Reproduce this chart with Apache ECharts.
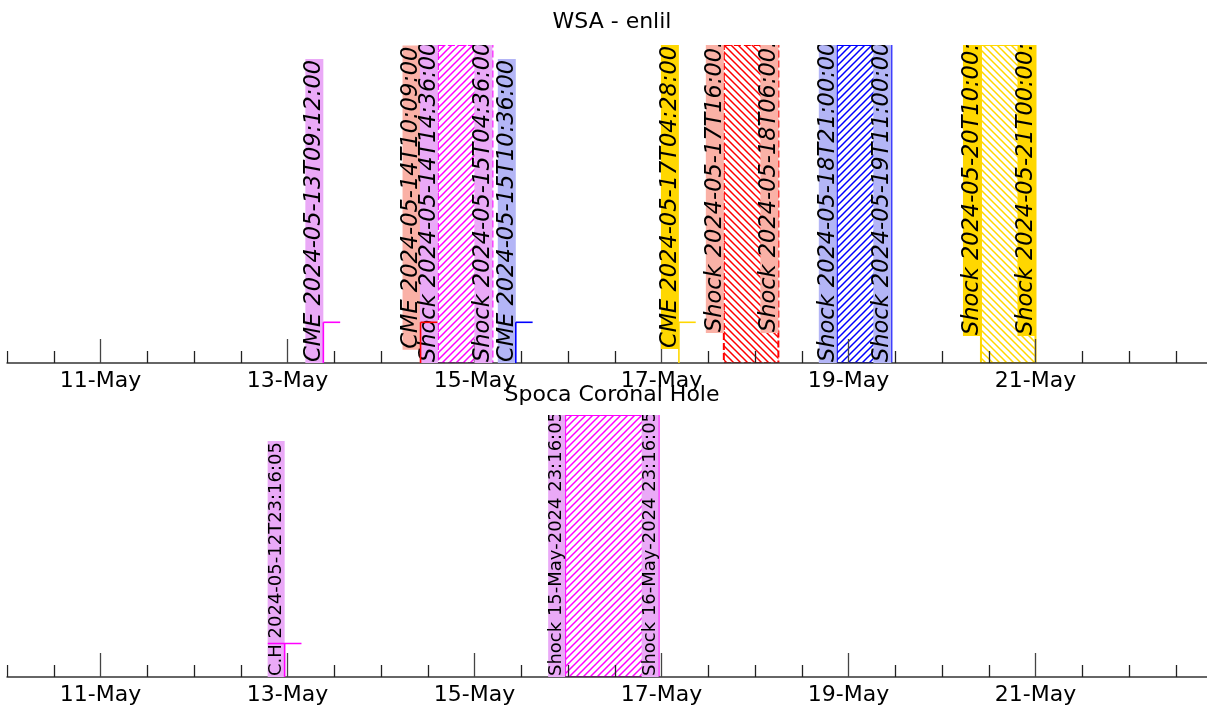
<!DOCTYPE html>
<html><head><meta charset="utf-8">
<script src="https://cdn.jsdelivr.net/npm/echarts@6/dist/echarts.min.js"></script>
<style>html,body{margin:0;padding:0;background:#fff}#c{width:1207px;height:707px}</style>
</head><body><div id="c"></div>
<script>
// ---------------- data ----------------
const wsaTitle = 'WSA - enlil';
const spocaTitle = 'Spoca Coronal Hole';
const tickLabels = ['11-May', '13-May', '15-May', '17-May', '19-May', '21-May'];
const wsaCmeTimes = ['2024-05-13T09:12:00', '2024-05-14T10:09:00', '2024-05-15T10:36:00', '2024-05-17T04:28:00'];
const wsaShockStarts = ['2024-05-14T14:36:00', '2024-05-17T16:00:00', '2024-05-18T21:00:00', '2024-05-20T10:00:00'];
const wsaShockEnds = ['2024-05-15T04:36:00', '2024-05-18T06:00:00', '2024-05-19T11:00:00', '2024-05-21T00:00:00'];
const spocaChTimes = ['2024-05-12T23:16:05'];
const spocaShockStarts = ['2024-05-15T23:16:05'];
const spocaShockEnds = ['2024-05-16T23:16:05'];

// ---------------- styles / layout ----------------
const VIOLET_BG = '#EAA9F7', SALMON_BG = '#FAB1A6', BLUE_BG = '#B3B5F6', GOLD_BG = '#FFD700';
const wsaCmeStyle = [
  {bg: VIOLET_BG, line: '#FF00FF', lift: 0},
  {bg: SALMON_BG, line: '#FF0000', lift: 0.042},
  {bg: BLUE_BG, line: '#0000FF', lift: 0},
  {bg: GOLD_BG, line: '#FFD700', lift: 0.044}
];
const wsaShockStyle = [
  {bg: VIOLET_BG, edge: '#FF00FF', hatch: '/', dash: true, lift: 0},
  {bg: SALMON_BG, edge: '#FF0000', hatch: '\\', dash: true, lift: 0.094},
  {bg: BLUE_BG, edge: '#0000FF', hatch: '/', dash: false, lift: 0},
  {bg: GOLD_BG, edge: '#FFD700', hatch: '\\', dash: false, lift: 0.085}
];
const spocaChStyle = [{bg: VIOLET_BG, line: '#FF00FF', lift: 0}];
const spocaShockStyle = [{bg: VIOLET_BG, edge: '#FF00FF', hatch: '/', dash: false, lift: 0}];
const MARK_H = 0.128;          // marker height (fraction of axis)
const MARK_W = 0.18 * 86400000; // marker horizontal half-length (ms)

const DAY = 86400000;
const T = s => Date.parse(s + 'Z');
const MON = ['Jan','Feb','Mar','Apr','May','Jun','Jul','Aug','Sep','Oct','Nov','Dec'];
const pad = n => String(n).padStart(2, '0');
function fmtDay(v) { const d = new Date(v); return pad(d.getUTCDate()) + '-' + MON[d.getUTCMonth()]; }
function fmtDMY(s) {
  const d = new Date(T(s));
  return pad(d.getUTCDate()) + '-' + MON[d.getUTCMonth()] + '-' + d.getUTCFullYear() + ' ' +
    pad(d.getUTCHours()) + ':' + pad(d.getUTCMinutes()) + ':' + pad(d.getUTCSeconds());
}

function hatchPattern(color, dir) {
  const s = 7, c = document.createElement('canvas');
  c.width = s; c.height = s;
  const g = c.getContext('2d');
  g.strokeStyle = color; g.lineWidth = 1.5; g.lineCap = 'square';
  g.beginPath();
  if (dir === '/') {
    g.moveTo(0, s); g.lineTo(s, 0);
    g.moveTo(-1, 1); g.lineTo(1, -1);
    g.moveTo(s - 1, s + 1); g.lineTo(s + 1, s - 1);
  } else {
    g.moveTo(0, 0); g.lineTo(s, s);
    g.moveTo(-1, s - 1); g.lineTo(1, s + 1);
    g.moveTo(s - 1, -1); g.lineTo(s + 1, 1);
  }
  g.stroke();
  return {image: c, repeat: 'repeat'};
}

// ---------------- build panel series ----------------
function panelSeries(idx, cmeTimes, cmeStyle, cmeLabel, shockStarts, shockEnds, shockStyle, shockLabel, font, lh, markerCentered) {
  const labels = [];
  cmeTimes.forEach((s, i) => labels.push({t: T(s), text: cmeLabel(s), bg: cmeStyle[i].bg, lift: cmeStyle[i].lift}));
  shockStarts.forEach((s, i) => {
    labels.push({t: T(s), text: shockLabel(s), bg: shockStyle[i].bg, lift: shockStyle[i].lift});
    labels.push({t: T(shockEnds[i]), text: shockLabel(shockEnds[i]), bg: shockStyle[i].bg, lift: shockStyle[i].lift});
  });
  const hatch = {
    type: 'custom', xAxisIndex: idx, yAxisIndex: idx, z: 2, clip: true,
    data: shockStarts.map((s, i) => [T(s), T(shockEnds[i])]),
    renderItem(params, api) {
      const st = shockStyle[params.dataIndex];
      const p0 = api.coord([api.value(0), 1]);
      const p1 = api.coord([api.value(1), 0]);
      return {type: 'rect',
        shape: {x: p0[0], y: p0[1], width: p1[0] - p0[0], height: p1[1] - p0[1]},
        style: {fill: hatchPattern(st.edge, st.hatch), stroke: st.edge, lineWidth: 2, lineDash: st.dash ? [7, 3] : null}};
    }
  };
  const text = {
    type: 'custom', xAxisIndex: idx, yAxisIndex: idx, z: 4, clip: true,
    data: labels.map(l => [l.t, l.lift]),
    renderItem(params, api) {
      const l = labels[params.dataIndex];
      const p = api.coord([api.value(0), api.value(1)]);
      return {type: 'text', x: p[0], y: p[1], rotation: Math.PI / 2,
        style: {text: l.text, font: font, fill: '#000', align: 'left', verticalAlign: 'bottom',
          backgroundColor: l.bg, lineHeight: lh, padding: [0, 1]}};
    }
  };
  const marks = {
    type: 'custom', xAxisIndex: idx, yAxisIndex: idx, z: 5, clip: true,
    data: cmeTimes.map(s => [T(s)]),
    renderItem(params, api) {
      const st = cmeStyle[params.dataIndex];
      const t = api.value(0);
      const a = api.coord([t, 0]), b = api.coord([t, MARK_H]);
      const l = api.coord([markerCentered ? t - MARK_W : t, MARK_H]), r = api.coord([t + MARK_W, MARK_H]);
      return {type: 'group', children: [
        {type: 'line', shape: {x1: a[0], y1: a[1], x2: b[0], y2: b[1]}, style: {stroke: st.line, lineWidth: 1.6}},
        {type: 'line', shape: {x1: l[0], y1: l[1], x2: r[0], y2: r[1]}, style: {stroke: st.line, lineWidth: 1.6}}
      ]};
    }
  };
  return [hatch, text, marks];
}

const topFont = 'italic 22.5px "DejaVu Sans"';
const botFont = '18px "DejaVu Sans"';
const series = [].concat(
  panelSeries(0, wsaCmeTimes, wsaCmeStyle, s => 'CME ' + s, wsaShockStarts, wsaShockEnds, wsaShockStyle, s => 'Shock ' + s, topFont, 18, false),
  panelSeries(1, spocaChTimes, spocaChStyle, s => 'C.H ' + s, spocaShockStarts, spocaShockEnds, spocaShockStyle, s => 'Shock ' + fmtDMY(s), botFont, 17, true)
);

const X_MIN = T('2024-05-09T00:00:00'), X_MAX = T('2024-05-23T00:00:00');
const PX_DAY = 93.5;
const GRID_LEFT = 7 - PX_DAY; // 10-May 00:00 lands at x=7
function xAxis(gi) {
  return {type: 'value', gridIndex: gi, min: X_MIN, max: X_MAX, interval: 2 * DAY, z: 3,
    axisLine: {show: true, onZero: false, lineStyle: {color: '#333', width: 1.6}},
    axisTick: {show: true, inside: true, length: 24, lineStyle: {color: '#444', width: 1.3}},
    minorTick: {show: true, splitNumber: 4, length: 12, lineStyle: {color: '#222', width: 1.3}},
    splitLine: {show: false}, minorSplitLine: {show: false},
    axisLabel: {fontSize: 22, fontFamily: 'DejaVu Sans', color: '#000', margin: 7,
      showMinLabel: true, showMaxLabel: true, hideOverlap: false,
      formatter: v => { const s = fmtDay(v); return tickLabels.indexOf(s) >= 0 ? s : ''; }}};
}
function yAxis(gi) {
  return {type: 'value', gridIndex: gi, min: 0, max: 1, show: false};
}

const chart = echarts.init(document.getElementById('c'), null, {renderer: 'canvas'});
chart.setOption({
  animation: false,
  backgroundColor: '#fff',
  grid: [
    {left: GRID_LEFT, top: 45, width: 14 * PX_DAY, height: 318, containLabel: false, outerBoundsMode: 'none'},
    {left: GRID_LEFT, top: 415, width: 14 * PX_DAY, height: 262, containLabel: false, outerBoundsMode: 'none'}
  ],
  xAxis: [xAxis(0), xAxis(1)],
  yAxis: [yAxis(0), yAxis(1)],
  series: series,
  graphic: [
    {type: 'text', x: 612, y: 22, z: 100, style: {text: wsaTitle, font: '22px "DejaVu Sans"', fill: '#000', align: 'center', verticalAlign: 'middle'}},
    {type: 'text', x: 612, y: 395, z: 100, style: {text: spocaTitle, font: '22px "DejaVu Sans"', fill: '#000', align: 'center', verticalAlign: 'middle'}},
    {type: 'rect', shape: {x: 0, y: 330, width: 6.5, height: 40}, style: {fill: '#fff'}, z: 100},
    {type: 'rect', shape: {x: 0, y: 645, width: 6.5, height: 40}, style: {fill: '#fff'}, z: 100}
  ]
});
</script></body></html>
